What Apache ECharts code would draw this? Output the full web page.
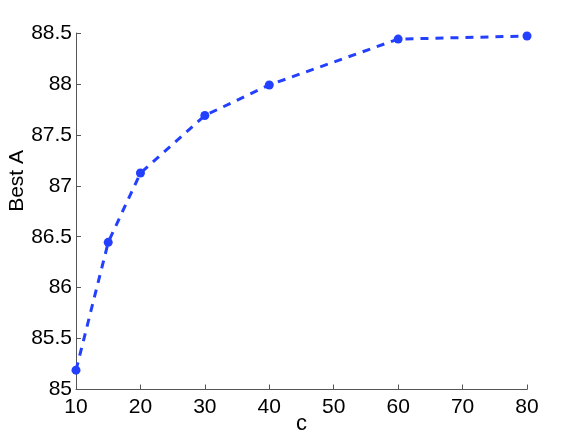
<!DOCTYPE html>
<html><head><meta charset="utf-8">
<script src="https://cdn.jsdelivr.net/npm/echarts@6/dist/echarts.min.js"></script>
<style>html,body{margin:0;padding:0;background:#fff}#c{width:582px;height:438px}</style>
</head><body><div id="c"></div>
<script>
var xValues = [10, 15, 20, 30, 40, 60, 80];
var yValues = [85.19, 86.445, 87.125, 87.69, 87.99, 88.44, 88.47];
var xTicks = [10, 20, 30, 40, 50, 60, 70, 80];
var yTicks = [85, 85.5, 86, 86.5, 87, 87.5, 88, 88.5];
var xTitle = 'c';
var yTitle = 'Best A';

var chart = echarts.init(document.getElementById('c'), null, {renderer: 'canvas'});
var font = 'Liberation Sans, Arial, Helvetica, sans-serif';
var axisLine = {show: true, lineStyle: {color: '#555', width: 1}};
chart.setOption({
  animation: false,
  backgroundColor: '#fff',
  grid: {left: 76, right: 55, top: 33, bottom: 48.5, containLabel: false, outerBoundsMode: 'none'},
  xAxis: {
    type: 'value', min: xTicks[0], max: xTicks[xTicks.length - 1], interval: 10,
    axisLine: axisLine,
    axisTick: {show: true, inside: true, length: 5, lineStyle: {color: '#555'}},
    axisLabel: {color: '#000', fontSize: 21, fontFamily: font, margin: 7},
    splitLine: {show: false},
    name: xTitle, nameLocation: 'middle', nameGap: 23, nameMoveOverlap: false,
    nameTextStyle: {color: '#000', fontSize: 22, fontFamily: font}
  },
  yAxis: {
    type: 'value', min: yTicks[0], max: yTicks[yTicks.length - 1], interval: 0.5,
    axisLine: axisLine,
    axisTick: {show: true, inside: true, length: 5, lineStyle: {color: '#555'}},
    axisLabel: {color: '#000', fontSize: 21, fontFamily: font, margin: 4,
      formatter: function (v) { return String(Math.round(v * 10) / 10); }},
    splitLine: {show: false}
  },
  graphic: [{
    type: 'text', left: 7, top: 150, rotation: Math.PI / 2,
    style: {text: yTitle, fill: '#000', fontSize: 21, fontFamily: font}
  }],
  series: [{
    type: 'line',
    data: xValues.map(function (x, i) { return [x, yValues[i]]; }),
    symbol: 'circle', symbolSize: 9,
    itemStyle: {color: '#2340ff'},
    lineStyle: {color: '#2340ff', width: 3, type: [8, 7]}
  }]
});
</script></body></html>
